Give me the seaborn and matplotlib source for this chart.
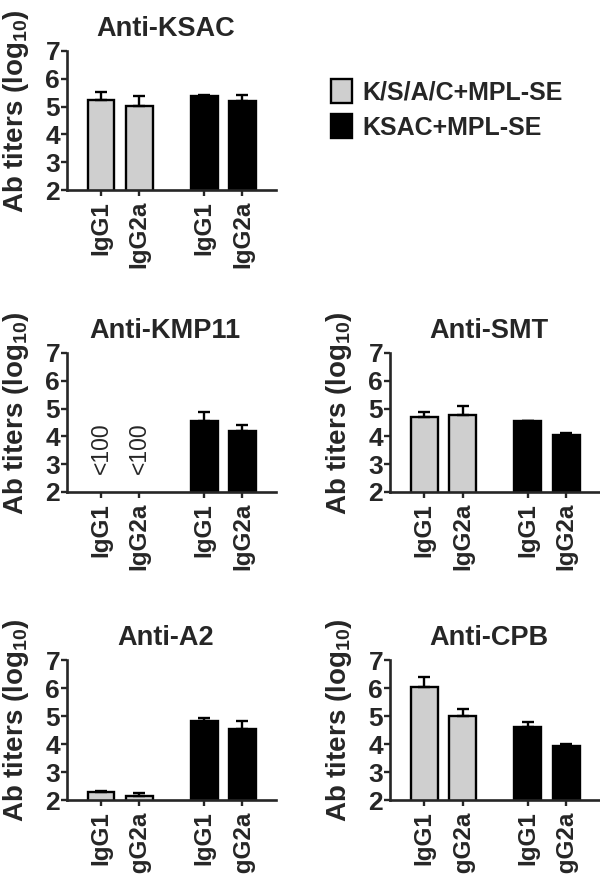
import numpy as np
import pandas as pd
import seaborn as sns
import matplotlib.pyplot as plt
from matplotlib.patches import Patch

# groups, isotypes, panels
groups = ["K/S/A/C+MPL-SE", "KSAC+MPL-SE"]
isotypes = ["IgG1", "IgG2a"]
panels = ["Anti-KSAC", "Anti-KMP11", "Anti-SMT", "Anti-A2", "Anti-CPB"]

# log10 titers, order: grp1 IgG1, grp1 IgG2a, grp2 IgG1, grp2 IgG2a
ksac_mean = [5.24, 5.02, 5.39, 5.20]
ksac_sem = [0.27, 0.37, 0.02, 0.22]
kmp11_mean = [np.nan, np.nan, 4.56, 4.20]
kmp11_sem = [np.nan, np.nan, 0.30, 0.22]
smt_mean = [4.69, 4.77, 4.55, 4.05]
smt_sem = [0.18, 0.33, 0.02, 0.06]
a2_mean = [2.27, 2.13, 4.81, 4.54]
a2_sem = [0.06, 0.12, 0.12, 0.29]
cpb_mean = [6.05, 5.01, 4.61, 3.94]
cpb_sem = [0.35, 0.24, 0.16, 0.07]

below_limit = "<100"

means = [ksac_mean, kmp11_mean, smt_mean, a2_mean, cpb_mean]
sems = [ksac_sem, kmp11_sem, smt_sem, a2_sem, cpb_sem]

sns.set_style("ticks")
plt.rcParams['font.family'] = ['Liberation Sans', 'DejaVu Sans']
plt.rcParams['mathtext.fontset'] = 'custom'
plt.rcParams['mathtext.rm'] = 'Liberation Sans'
plt.rcParams['mathtext.bf'] = 'Liberation Sans:bold'
plt.rcParams['mathtext.default'] = 'bf'

colors = {groups[0]: "#cfcfcf", groups[1]: "#000000"}
group_step = 2.7  # distance between the two groups of bars

W, H = 600, 874
fig = plt.figure(figsize=(6, 8.74), dpi=100)

# axes boxes in pixels: left, top, right, bottom
boxes = [(67, 51, 276, 190),
         (67, 353, 276, 492),
         (390, 353, 600, 492),
         (67, 660, 276, 800),
         (390, 660, 600, 800)]

for k, name in enumerate(panels):
    l, t, r, b = boxes[k]
    ax = fig.add_axes([l / W, 1 - b / H, (r - l) / W, (b - t) / H])

    rows = []
    for gi, g in enumerate(groups):
        for ii, iso in enumerate(isotypes):
            j = gi * 2 + ii
            rows.append({"x": ii + group_step * gi, "group": g, "iso": iso,
                         "mean": means[k][j], "sem": sems[k][j]})
    df = pd.DataFrame(rows)
    shown = df.dropna()

    sns.barplot(data=shown, x="x", y="mean", hue="group", hue_order=groups,
                palette=colors, native_scale=True, dodge=False, width=0.7,
                errorbar=None, edgecolor="black", linewidth=1.7, legend=False, ax=ax)
    ax.errorbar(shown["x"], shown["mean"], yerr=[np.zeros(len(shown)), shown["sem"]],
                fmt="none", ecolor="black", elinewidth=1.7, capsize=4.5, capthick=1.7)

    for _, row in df[df["mean"].isna()].iterrows():
        ax.text(row["x"], 3.56, below_limit, rotation=90, ha="center", va="center",
                fontsize=16.5, fontweight="normal")

    ax.set_ylim(2, 7)
    ax.set_yticks([2, 3, 4, 5, 6, 7])
    ax.set_xlim(-0.89, 4.58)
    ax.set_xticks(df["x"])
    ax.set_xticklabels(df["iso"], rotation=90, fontweight="bold", fontsize=17.5)
    for lab in ax.get_yticklabels():
        lab.set_fontweight("bold")
    ax.tick_params(axis="y", labelsize=19, length=4, width=1.7, pad=1)
    ax.tick_params(axis="x", length=4, width=1.7, pad=4)
    sns.despine(ax=ax)
    for s in ["left", "bottom"]:
        ax.spines[s].set_linewidth(1.9)
    ax.set_xlabel("")
    ax.set_ylabel("Ab titers (log$_{10}$)", fontsize=20, fontweight="bold")
    ax.yaxis.set_label_coords(-0.17, 0.57)
    ax.set_title(name, fontsize=19.5, fontweight="bold", pad=11, x=0.47)

handles = [Patch(facecolor=colors[g], edgecolor="black", linewidth=1.7, label=g) for g in groups]
fig.legend(handles=handles, loc="upper left", bbox_to_anchor=(331 / W, 1 - 79 / H),
           frameon=False, prop={"size": 18, "weight": "bold"}, handlelength=0.84,
           handleheight=1.08, handletextpad=0.42, labelspacing=0.4,
           borderpad=0, borderaxespad=0)

fig.savefig("out.png", dpi=100)
